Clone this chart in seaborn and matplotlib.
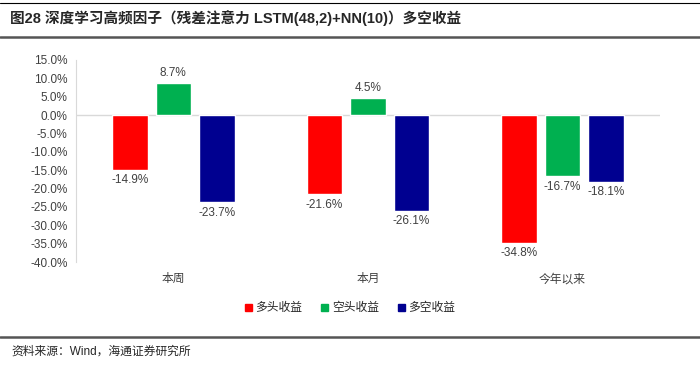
import numpy as np
import pandas as pd
import matplotlib
matplotlib.use("Agg")
import matplotlib.pyplot as plt
import seaborn as sns

periods = ["本周", "本月", "今年以来"]
series = ["多头收益", "空头收益", "多空收益"]
long_ret = [-14.9, -21.6, -34.8]
short_ret = [8.7, 4.5, -16.7]
ls_ret = [-23.7, -26.1, -18.1]
colors = ["#FF0000", "#00B050", "#000090"]

df = pd.DataFrame({
    "period": periods * 3,
    "series": [series[0]] * 3 + [series[1]] * 3 + [series[2]] * 3,
    "value": long_ret + short_ret + ls_ret,
})

sns.set_style("white")
plt.rcParams["font.family"] = ["Liberation Sans", "Noto Sans CJK SC", "DejaVu Sans"]

fig = plt.figure(figsize=(7, 3.65), dpi=100)
ax = fig.add_axes([0.1086, 0.282, 0.834, 0.554])

sns.barplot(data=df, x="period", y="value", hue="series", order=periods,
            hue_order=series, palette=colors, width=0.67, gap=0.18,
            saturation=1, ax=ax, legend=False)

ax.set_ylim(-40, 15)
ax.set_yticks(np.arange(-40, 15.1, 5))
ax.set_yticklabels([f"{v:.1f}%" for v in np.arange(-40, 15.1, 5)], fontsize=8.5, color="#404040")
ax.set_xlabel("")
ax.set_ylabel("")
ax.tick_params(axis="x", length=0, pad=8, labelsize=8.5, labelcolor="#404040")
ax.tick_params(axis="y", length=0, pad=6)
for s in ["top", "right", "bottom"]:
    ax.spines[s].set_visible(False)
ax.spines["left"].set_color("#D9D9D9")
ax.axhline(0, color="#D9D9D9", lw=1, zorder=0)

for cont in ax.containers:
    for bar in cont:
        h = bar.get_height()
        x = bar.get_x() + bar.get_width() / 2
        if h >= 0:
            ax.text(x, h + 1.2, f"{h:.1f}%", ha="center", va="bottom", fontsize=8.5, color="#404040")
        else:
            ax.text(x, h - 1.2, f"{h:.1f}%", ha="center", va="top", fontsize=8.5, color="#404040")

handles = [plt.Rectangle((0, 0), 1, 1, color=c) for c in colors]
fig.legend(handles, series, loc="center", bbox_to_anchor=(0.5, 0.155), ncol=3,
           frameon=False, fontsize=8.5, handlelength=0.6, handleheight=0.6,
           handletextpad=0.3, columnspacing=1.6)

fig.text(0.014, 0.951, "图28 深度学习高频因子（残差注意力 LSTM(48,2)+NN(10)）多空收益",
         fontsize=10.5, fontweight="bold", va="center", ha="left")
fig.add_artist(plt.Line2D([0.0, 1.0], [0.992, 0.992], color="black", lw=0.8))
fig.add_artist(plt.Line2D([0.0, 1.0], [0.9, 0.9], color="#555555", lw=1.8))
fig.add_artist(plt.Line2D([0.0, 1.0], [0.077, 0.077], color="#555555", lw=1.8))
fig.text(0.017, 0.036, "资料来源：Wind，海通证券研究所", fontsize=8.5, va="center", ha="left")

fig.savefig("out.png", dpi=100)
